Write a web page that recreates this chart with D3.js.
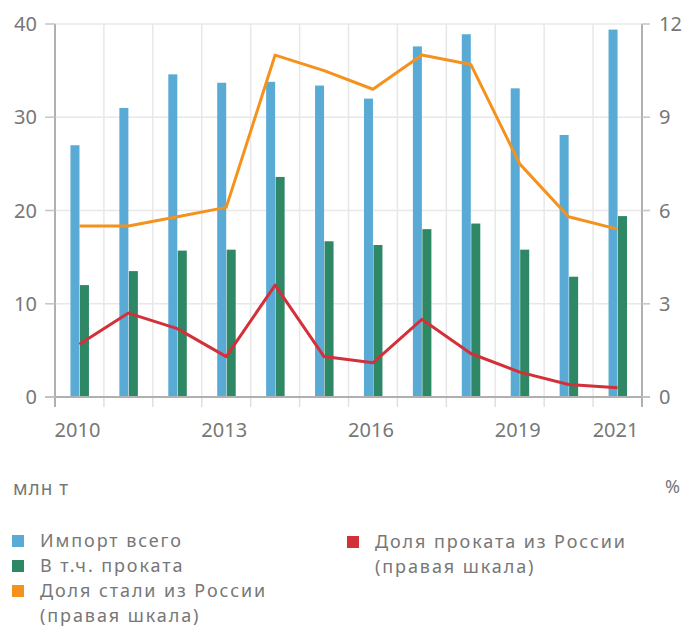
<!DOCTYPE html>
<html><head><meta charset="utf-8">
<script src="https://cdn.jsdelivr.net/npm/d3@7/dist/d3.min.js"></script>
<style>
html,body{margin:0;padding:0;background:#fff;}
svg{display:block;}
text{font-family:"Noto Sans",sans-serif;fill:#777;}
</style></head>
<body>
<svg id="c" width="686" height="628"></svg>
<script>
const years = [2010,2011,2012,2013,2014,2015,2016,2017,2018,2019,2020,2021];
const importTotal = [27.0,31.0,34.6,33.7,33.8,33.4,32.0,37.6,38.9,33.1,28.1,39.4];
const importRolled = [12.0,13.5,15.7,15.8,23.6,16.7,16.3,18.0,18.6,15.8,12.9,19.4];
const steelShareRussia = [5.5,5.5,5.8,6.1,11.0,10.5,9.9,11.0,10.7,7.5,5.8,5.4];
const rolledShareRussia = [1.7,2.7,2.2,1.3,3.6,1.3,1.1,2.5,1.4,0.8,0.4,0.3];
const leftTicks = [0,10,20,30,40];
const rightTicks = [0,3,6,9,12];
const xLabels = [2010,2013,2016,2019,2021];
const legendItems = [
  {label:["Импорт всего"], color:"#5aaad6"},
  {label:["В т.ч. проката"], color:"#2e8765"},
  {label:["Доля стали из России","(правая шкала)"], color:"#f5921e"},
  {label:["Доля проката из России","(правая шкала)"], color:"#d3303a"}
];

const svg = d3.select("#c");
const L = 55, R = 642, T = 24, B = 397;
const x = d3.scaleBand().domain(years).range([L,R]).padding(0);
const yL = d3.scaleLinear().domain([0,40]).range([B,T]);
const yR = d3.scaleLinear().domain([0,12]).range([B,T]);
const sub = d3.scaleBand().domain(["a","b"]).range([-9,9.5]).paddingInner(0.05);

// gridlines
const g = svg.append("g");
g.selectAll(".hg").data(leftTicks).join("line")
  .attr("x1",47).attr("x2",650).attr("y1",d=>yL(d)).attr("y2",d=>yL(d))
  .attr("stroke","#e8e8e8").attr("stroke-width",1.5);
const bounds = years.map(d=>x(d)).concat([R]);
g.selectAll(".vg").data(bounds).join("line")
  .attr("x1",d=>d).attr("x2",d=>d).attr("y1",T).attr("y2",B)
  .attr("stroke","#e8e8e8").attr("stroke-width",1.5);
g.selectAll(".vt").data(bounds).join("line")
  .attr("x1",d=>d).attr("x2",d=>d).attr("y1",B).attr("y2",B+10)
  .attr("stroke",(d,i)=> (i===0||i===bounds.length-1)?"#aaa":"#e0e0e0").attr("stroke-width",1.5);

// bars
const bars = svg.append("g");
bars.selectAll(".b1").data(years).join("rect")
  .attr("x",(d)=>x(d)+x.bandwidth()/2+sub("a"))
  .attr("width",sub.bandwidth())
  .attr("y",(d,i)=>yL(importTotal[i]))
  .attr("height",(d,i)=>B-yL(importTotal[i]))
  .attr("fill","#5aaad6");
bars.selectAll(".b2").data(years).join("rect")
  .attr("x",(d)=>x(d)+x.bandwidth()/2+sub("b"))
  .attr("width",sub.bandwidth())
  .attr("y",(d,i)=>yL(importRolled[i]))
  .attr("height",(d,i)=>B-yL(importRolled[i]))
  .attr("fill","#2e8765");

// axes lines
svg.append("line").attr("x1",L).attr("x2",L).attr("y1",T).attr("y2",B+10).attr("stroke","#b0b0b0").attr("stroke-width",2);
svg.append("line").attr("x1",R).attr("x2",R).attr("y1",T).attr("y2",B+10).attr("stroke","#b0b0b0").attr("stroke-width",2);
svg.append("line").attr("x1",45).attr("x2",650).attr("y1",B).attr("y2",B).attr("stroke","#b0b0b0").attr("stroke-width",2);
svg.selectAll(".lt").data(leftTicks).join("line").attr("x1",45).attr("x2",L).attr("y1",d=>yL(d)).attr("y2",d=>yL(d)).attr("stroke","#c8c8c8").attr("stroke-width",1.5);
svg.selectAll(".rt").data(rightTicks).join("line").attr("x1",R).attr("x2",650).attr("y1",d=>yR(d)).attr("y2",d=>yR(d)).attr("stroke","#c8c8c8").attr("stroke-width",1.5);

// lines
const cx = d=>x(d)+x.bandwidth()/2;
const lineO = d3.line().x((d,i)=>cx(years[i])).y(d=>yR(d));
svg.append("path").attr("d",lineO(steelShareRussia)).attr("fill","none").attr("stroke","#f5921e").attr("stroke-width",3).attr("stroke-linejoin","round");
svg.append("path").attr("d",lineO(rolledShareRussia)).attr("fill","none").attr("stroke","#d3303a").attr("stroke-width",3).attr("stroke-linejoin","round");

// tick labels
svg.selectAll(".ll").data(leftTicks).join("text")
  .attr("x",37).attr("y",d=>yL(d)).attr("dy","0.36em").attr("text-anchor","end")
  .style("font-size","20px").text(d=>d);
svg.selectAll(".rl").data(rightTicks).join("text")
  .attr("x",659).attr("y",d=>yR(d)).attr("dy","0.36em").attr("text-anchor","start")
  .style("font-size","20px").text(d=>d);
svg.selectAll(".xl").data(xLabels).join("text")
  .attr("x",d=>cx(d)-2).attr("y",437).attr("text-anchor","middle")
  .style("font-size","20px").text(d=>d);

// units
svg.append("text").attr("x",13).attr("y",495).style("font-size","19px").style("letter-spacing","1px").text("млн т");
svg.append("text").attr("x",680).attr("y",493).attr("text-anchor","end").style("font-size","18px").text("%");

// legend
const pos = [{x:12,y:547},{x:12,y:572},{x:12,y:597},{x:347,y:548}];
const lg = svg.append("g");
legendItems.forEach((it,i)=>{
  const p = pos[i];
  lg.append("rect").attr("x",p.x).attr("y",p.y-12).attr("width",12).attr("height",12).attr("fill",it.color);
  it.label.forEach((s,j)=>{
    lg.append("text").attr("x",p.x+28).attr("y",p.y+j*24.5)
      .style("font-size","18px").style("letter-spacing","1.9px").text(s);
  });
});
</script>
</body></html>
